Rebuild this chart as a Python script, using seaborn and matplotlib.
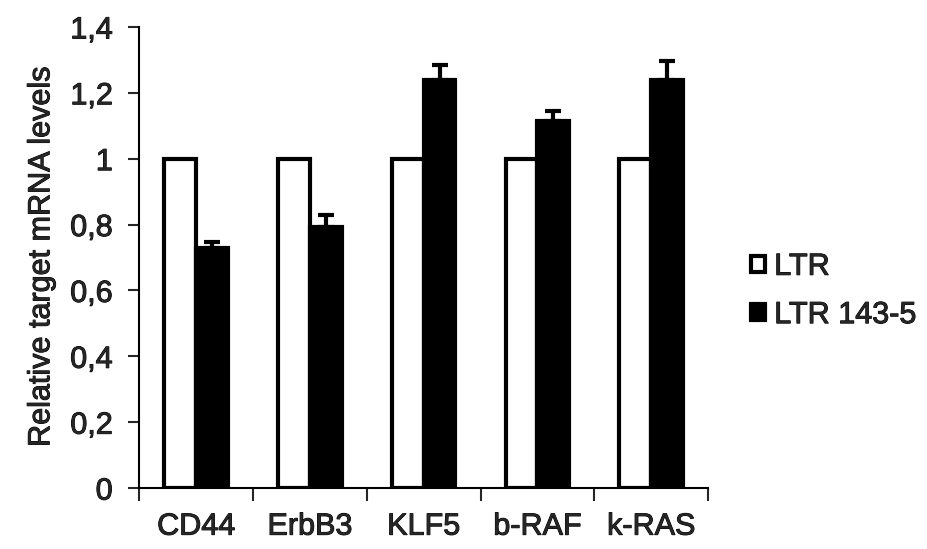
import matplotlib
import matplotlib.pyplot as plt
import matplotlib.patheffects as pe
import seaborn as sns
import pandas as pd
import numpy as np

matplotlib.use('Agg')

genes = ["CD44", "ErbB3", "KLF5", "b-RAF", "k-RAS"]
ltr = [1.0, 1.0, 1.0, 1.0, 1.0]
ltr_143 = [0.73, 0.794, 1.238, 1.115, 1.238]
ltr_143_err = [0.017, 0.036, 0.046, 0.029, 0.057]
groups = ["LTR", "LTR 143-5"]
y_ticks = [0, 0.2, 0.4, 0.6, 0.8, 1, 1.2, 1.4]
y_tick_labels = ["0", "0,2", "0,4", "0,6", "0,8", "1", "1,2", "1,4"]

df = pd.DataFrame({
    "gene": genes * 2,
    "group": [groups[0]] * len(genes) + [groups[1]] * len(genes),
    "value": ltr + ltr_143,
})

sns.set_style("white")
plt.rcParams['font.family'] = ['Liberation Sans', 'DejaVu Sans']
FS = 22
# slightly heavier text, like the reference
heavy = [pe.withStroke(linewidth=0.7, foreground="black")]

fig = plt.figure(figsize=(9.28, 5.49), dpi=100)
ax = fig.add_axes([0.150, 0.111, 0.613, 0.840])

sns.barplot(data=df, x="gene", y="value", hue="group", order=genes, hue_order=groups,
            palette=["white", "black"], edgecolor="black", linewidth=3, width=0.56,
            errorbar=None, ax=ax)

# error bars (upper only) on the LTR 143-5 bars
xs = [p.get_x() + p.get_width() / 2 for p in ax.containers[1]]
ax.errorbar(xs, ltr_143, yerr=[np.zeros(len(xs)), ltr_143_err], fmt="none",
            ecolor="black", elinewidth=3, capsize=6, capthick=3)

ax.set_xlim(-0.5, 4.5)
ax.set_ylim(0, 1.4)
ax.set_yticks(y_ticks)
ax.set_yticklabels(y_tick_labels, fontsize=FS)
ax.tick_params(axis="y", direction="out", length=8, width=1.5, pad=11, left=True)
ax.set_xticks(range(len(genes)))
ax.set_xticklabels(genes, fontsize=FS)
ax.tick_params(axis="x", which="major", length=0, pad=17)
ax.set_xticks(np.arange(-0.5, len(genes), 1), minor=True)
ax.tick_params(axis="x", which="minor", direction="out", length=9, width=1.5, bottom=True)

ax.set_xlabel("")
ax.set_ylabel("Relative target mRNA levels", fontsize=FS, labelpad=10)
sns.despine(ax=ax)
for s in ["left", "bottom"]:
    ax.spines[s].set_linewidth(1.5)
    ax.spines[s].set_color("black")

handles, labels = ax.get_legend_handles_labels()
leg = ax.legend(handles, labels, loc="center left", bbox_to_anchor=(0.78, 0.47),
                bbox_transform=fig.transFigure, frameon=False, fontsize=FS,
                handlelength=0.45, handleheight=0.45, handletextpad=0.3, labelspacing=0.6)

for t in ax.get_xticklabels() + ax.get_yticklabels() + leg.get_texts() + [ax.yaxis.label]:
    t.set_path_effects(heavy)

fig.savefig("out.png", dpi=100)
